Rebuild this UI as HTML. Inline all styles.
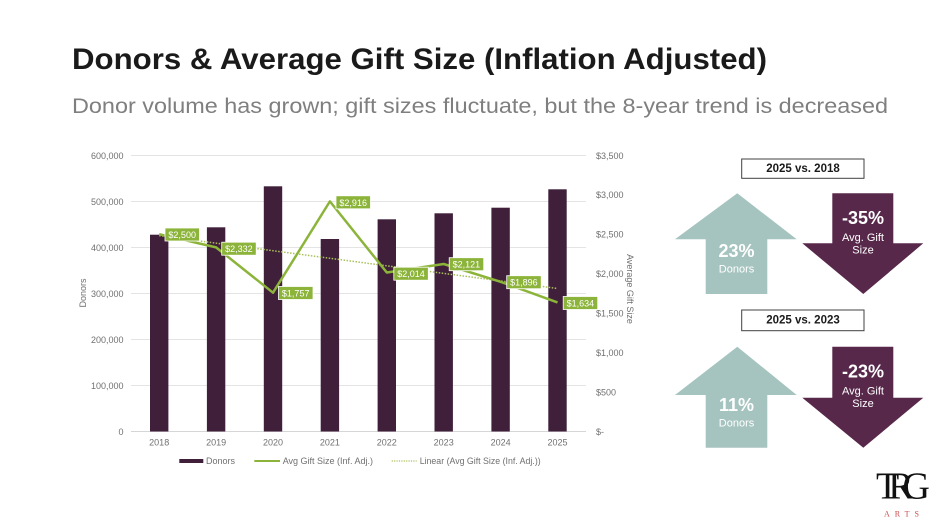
<!DOCTYPE html>
<html><head><meta charset="utf-8"><style>
html,body{margin:0;padding:0;background:#fff;}
svg{display:block;}
text{font-family:"Liberation Sans",Arial,sans-serif;}
</style></head><body>
<svg width="940" height="528" viewBox="0 0 940 528" xmlns="http://www.w3.org/2000/svg">
<rect width="940" height="528" fill="#fff"/>
<text x="72" y="69" font-size="30" font-weight="bold" fill="#1a1a1a" textLength="695" lengthAdjust="spacingAndGlyphs">Donors &amp; Average Gift Size (Inflation Adjusted)</text>
<text x="72" y="113" font-size="21" fill="#7f7f7f" textLength="816" lengthAdjust="spacingAndGlyphs">Donor volume has grown; gift sizes fluctuate, but the 8-year trend is decreased</text>

<!-- gridlines -->
<g stroke="#e4e4e4" stroke-width="1">
<line x1="131" y1="155.5" x2="586" y2="155.5"/>
<line x1="131" y1="201.5" x2="586" y2="201.5"/>
<line x1="131" y1="247.5" x2="586" y2="247.5"/>
<line x1="131" y1="293.5" x2="586" y2="293.5"/>
<line x1="131" y1="339.5" x2="586" y2="339.5"/>
<line x1="131" y1="385.5" x2="586" y2="385.5"/>
</g>
<line x1="131" y1="431.5" x2="586" y2="431.5" stroke="#d6d6d6" stroke-width="1"/>

<!-- left ticks -->
<g font-size="9" fill="#707070" text-anchor="end">
<text x="123.5" y="159">600,000</text>
<text x="123.5" y="205">500,000</text>
<text x="123.5" y="251">400,000</text>
<text x="123.5" y="297">300,000</text>
<text x="123.5" y="343">200,000</text>
<text x="123.5" y="389">100,000</text>
<text x="123.5" y="435">0</text>
</g>
<!-- right ticks -->
<g font-size="9" fill="#707070">
<text x="596" y="159">$3,500</text>
<text x="596" y="198">$3,000</text>
<text x="596" y="237.5">$2,500</text>
<text x="596" y="277">$2,000</text>
<text x="596" y="316.5">$1,500</text>
<text x="596" y="356">$1,000</text>
<text x="596" y="395.5">$500</text>
<text x="596" y="435">$-</text>
</g>
<text font-size="9" fill="#707070" text-anchor="middle" transform="translate(86,293) rotate(-90)">Donors</text>
<text font-size="9" fill="#707070" text-anchor="middle" transform="translate(627,289) rotate(90)">Average Gift Size</text>

<!-- bars -->
<g fill="#3f1f3a">
<rect x="150" y="234.7" width="18.4" height="196.8"/>
<rect x="206.9" y="227.3" width="18.4" height="204.2"/>
<rect x="263.8" y="186.3" width="18.4" height="245.2"/>
<rect x="320.7" y="239" width="18.4" height="192.5"/>
<rect x="377.6" y="219.3" width="18.4" height="212.2"/>
<rect x="434.5" y="213.3" width="18.4" height="218.2"/>
<rect x="491.4" y="207.7" width="18.4" height="223.8"/>
<rect x="548.3" y="189.3" width="18.4" height="242.2"/>
</g>

<!-- year labels -->
<g font-size="9" fill="#707070" text-anchor="middle">
<text x="159.2" y="445.5">2018</text>
<text x="216.1" y="445.5">2019</text>
<text x="273" y="445.5">2020</text>
<text x="329.9" y="445.5">2021</text>
<text x="386.8" y="445.5">2022</text>
<text x="443.7" y="445.5">2023</text>
<text x="500.6" y="445.5">2024</text>
<text x="557.5" y="445.5">2025</text>
</g>

<!-- trend -->
<line x1="159.2" y1="235.6" x2="557.5" y2="288.5" stroke="#a9c15a" stroke-width="1.5" stroke-dasharray="1.5,1.5"/>
<!-- line -->
<polyline fill="none" stroke="#8cb43a" stroke-width="2.5" stroke-linejoin="round" points="159.2,234.2 216.1,247.4 273,292.7 329.9,201.4 386.8,272.5 443.7,264 500.6,281.8 557.5,302.4"/>

<!-- data labels -->
<g font-size="9" fill="#fff" text-anchor="middle">
<rect x="165" y="228" width="34.5" height="13" fill="#8cb43a" stroke="#fff" stroke-width="0.8"/><text x="182.2" y="238">$2,500</text>
<rect x="221.7" y="242.2" width="34.5" height="13" fill="#8cb43a" stroke="#fff" stroke-width="0.8"/><text x="238.9" y="252.2">$2,332</text>
<rect x="278.5" y="286.5" width="34.5" height="13" fill="#8cb43a" stroke="#fff" stroke-width="0.8"/><text x="295.7" y="296.5">$1,757</text>
<rect x="336" y="195.8" width="34.5" height="13" fill="#8cb43a" stroke="#fff" stroke-width="0.8"/><text x="353.2" y="205.8">$2,916</text>
<rect x="393.8" y="267.2" width="34.5" height="13" fill="#8cb43a" stroke="#fff" stroke-width="0.8"/><text x="411" y="277.2">$2,014</text>
<rect x="449.2" y="257.7" width="34.5" height="13" fill="#8cb43a" stroke="#fff" stroke-width="0.8"/><text x="466.4" y="267.7">$2,121</text>
<rect x="506.7" y="275.7" width="34.5" height="13" fill="#8cb43a" stroke="#fff" stroke-width="0.8"/><text x="523.9" y="285.7">$1,896</text>
<rect x="563.2" y="296.5" width="34.5" height="13" fill="#8cb43a" stroke="#fff" stroke-width="0.8"/><text x="580.4" y="306.5">$1,634</text>
</g>

<!-- legend -->
<rect x="179.3" y="459" width="24" height="4" fill="#3f1f3a"/>
<text x="206" y="464" font-size="9" fill="#707070">Donors</text>
<line x1="254.3" y1="461" x2="280" y2="461" stroke="#8cb43a" stroke-width="2"/>
<text x="282.7" y="464" font-size="9" fill="#707070">Avg Gift Size (Inf. Adj.)</text>
<line x1="391.7" y1="461" x2="416.7" y2="461" stroke="#a9c15a" stroke-width="1.2" stroke-dasharray="1.2,1.2"/>
<text x="419.7" y="464" font-size="9" fill="#707070" textLength="121" lengthAdjust="spacingAndGlyphs">Linear (Avg Gift Size (Inf. Adj.))</text>

<!-- right panel group 1 -->
<rect x="741.7" y="159" width="122.3" height="19.3" fill="#fff" stroke="#404040" stroke-width="1"/>
<text x="803" y="172" font-size="11.5" font-weight="bold" fill="#1a1a1a" text-anchor="middle">2025 vs. 2018</text>
<polygon points="737.3,193.3 796.7,239.3 767.3,239.3 767.3,294 705.7,294 705.7,239.3 675,239.3" fill="#a6c4bf"/>
<text x="736.5" y="257" font-size="18" font-weight="bold" fill="#fff" text-anchor="middle">23%</text>
<text x="736.5" y="272.5" font-size="11" fill="#fff" text-anchor="middle">Donors</text>
<polygon points="832.3,193.3 893.3,193.3 893.3,243.3 923.3,243.3 863.3,294 802.3,243.3 832.3,243.3" fill="#58284b"/>
<text x="863" y="224" font-size="18" font-weight="bold" fill="#fff" text-anchor="middle">-35%</text>
<text x="863" y="241" font-size="11" fill="#fff" text-anchor="middle">Avg. Gift</text>
<text x="863" y="253.5" font-size="11" fill="#fff" text-anchor="middle">Size</text>

<!-- right panel group 2 -->
<rect x="741.7" y="310" width="122.3" height="20.7" fill="#fff" stroke="#404040" stroke-width="1"/>
<text x="803" y="323.5" font-size="11.5" font-weight="bold" fill="#1a1a1a" text-anchor="middle">2025 vs. 2023</text>
<polygon points="737.3,346.7 796.7,395 767.3,395 767.3,447.7 705.7,447.7 705.7,395 675,395" fill="#a6c4bf"/>
<text x="736.5" y="411" font-size="18" font-weight="bold" fill="#fff" text-anchor="middle">11%</text>
<text x="736.5" y="426.7" font-size="11" fill="#fff" text-anchor="middle">Donors</text>
<polygon points="832.3,346.7 893.3,346.7 893.3,397.7 923.3,397.7 863.3,447.7 802.3,397.7 832.3,397.7" fill="#58284b"/>
<text x="863" y="377.7" font-size="18" font-weight="bold" fill="#fff" text-anchor="middle">-23%</text>
<text x="863" y="394.3" font-size="11" fill="#fff" text-anchor="middle">Avg. Gift</text>
<text x="863" y="407" font-size="11" fill="#fff" text-anchor="middle">Size</text>

<!-- logo -->
<text x="876" y="498.5" style="font-family:'Liberation Serif','DejaVu Serif',serif;" font-size="38" fill="#111" letter-spacing="-11">TRG</text>
<text x="884" y="516.5" style="font-family:'Liberation Serif','DejaVu Serif',serif;" font-size="8" fill="#c94a4a" letter-spacing="5">ARTS</text>
</svg>
</body></html>
